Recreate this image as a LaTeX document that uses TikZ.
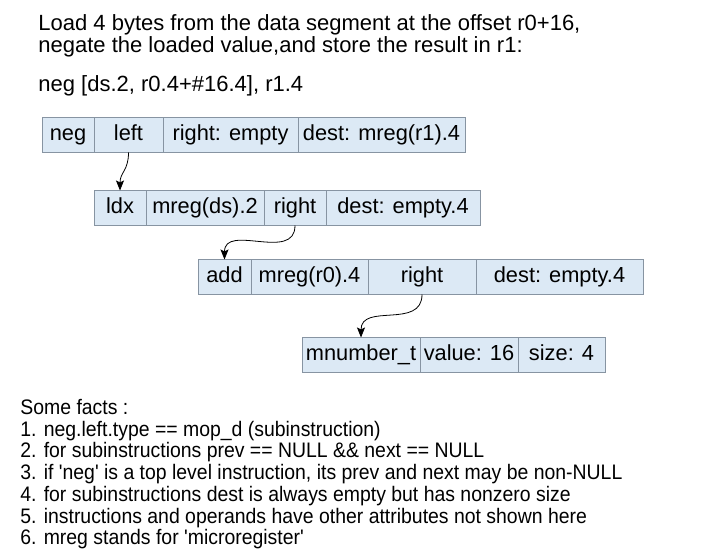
\documentclass[tikz,border=0pt]{standalone}
\usepackage{fontspec}
\setmainfont{Liberation Sans}
\newfontfamily\factfont[FakeStretch=0.925]{Liberation Sans}
\usetikzlibrary{arrows.meta}
\usetikzlibrary{positioning}
\definecolor{cellfill}{RGB}{220,233,245}
\definecolor{cellline}{RGB}{135,148,162}
\tikzset{
 cell/.style={draw=cellline, fill=cellfill, minimum height=17.5pt, inner sep=0pt, outer sep=0pt, text height=8pt, text depth=2.2pt, font=\fontsize{10.9}{13}\selectfont},
 link/.style={black, -{Stealth[length=5pt, width=4pt, inset=1pt]}, out=-90, in=90, looseness=1.2}
}

\begin{document}
\begin{tikzpicture} [x=.5pt, y=-.5pt]
\useasboundingbox (0,0) rectangle (722,555);
% header
\node[anchor=west, align=left, inner sep=0, font=\fontsize{11}{11}\selectfont] (head) at (38,36) {Load 4 bytes from the data segment at the offset r0+16,\\negate the loaded value,and store the result in r1:};
\node[anchor=west, inner sep=0, font=\fontsize{11}{11}\selectfont] (insn) at (38,86) {neg [ds.2, r0.4+\#16.4], r1.4};
% neg
\node[cell, anchor=west, minimum width=26pt] (neg) at (42,135) {neg};
\node[cell, minimum width=34.5pt, right=0pt of neg] (negleft) {left};
\node[cell, minimum width=67.5pt, right=0pt of negleft] (negright) {right: empty};
\node[cell, minimum width=83.5pt, right=0pt of negright] (negdest) {dest: mreg(r1).4};
% ldx
\node[cell, anchor=west, minimum width=26pt] (ldx) at (94,208) {ldx};
\node[cell, minimum width=59pt, right=0pt of ldx] (ldxleft) {mreg(ds).2};
\node[cell, minimum width=31pt, right=0pt of ldxleft] (ldxright) {right};
\node[cell, minimum width=77pt, right=0pt of ldxright] (ldxdest) {dest: empty.4};
% add
\node[cell, anchor=west, minimum width=26.5pt] (add) at (198,277) {add};
\node[cell, minimum width=58.5pt, right=0pt of add] (addleft) {mreg(r0).4};
\node[cell, minimum width=54pt, right=0pt of addleft] (addright) {right};
\node[cell, minimum width=83.5pt, right=0pt of addright] (adddest) {dest: empty.4};
% mnumber_t
\node[cell, anchor=west, minimum width=59pt] (num) at (302,355) {mnumber\_t};
\node[cell, minimum width=49pt, right=0pt of num] (numval) {value: 16};
\node[cell, minimum width=43.5pt, right=0pt of numval] (numsize) {size: 4};
% links
\draw[link] (negleft.south) to (ldx.north);
\draw[link] (ldxright.south) to (add.north);
\draw[link] (addright.south) to (num.north);
% facts
\node[anchor=north west, align=left, inner sep=0, font=\factfont\fontsize{10.5}{10.85}\selectfont] (facts) at (20,399) {Some facts :\\
1. neg.left.type == mop\_d (subinstruction)\\
2. for subinstructions prev == NULL \&\& next == NULL\\
3. if 'neg' is a top level instruction, its prev and next may be non-NULL\\
4. for subinstructions dest is always empty but has nonzero size\\
5. instructions and operands have other attributes not shown here\\
6. mreg stands for 'microregister'};
\end{tikzpicture}
\end{document}
